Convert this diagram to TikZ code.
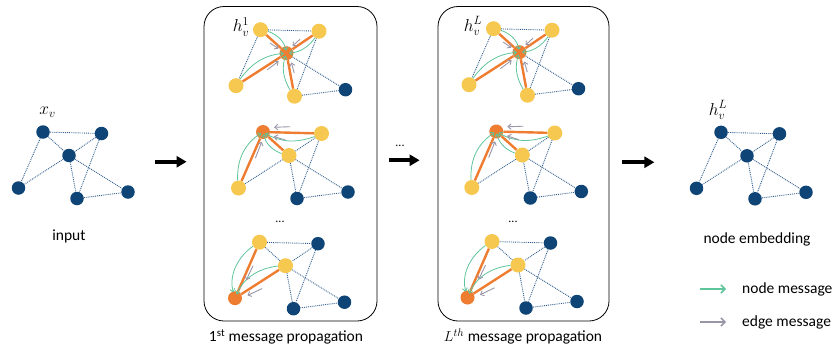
\documentclass[tikz,border=0pt]{standalone}
\usepackage{fontspec}
\setmainfont{Carlito}
\usetikzlibrary{arrows.meta, positioning, calc}
\definecolor{nodenavy}{HTML}{0F4476}
\definecolor{nodegold}{HTML}{F6C84F}
\definecolor{nodeorange}{HTML}{EE7D31}
\definecolor{edgeblue}{HTML}{2F5E8E}
\definecolor{msggreen}{HTML}{5EC59B}
\definecolor{msggray}{HTML}{9A96A8}

\tikzset{
  plainnode/.style={circle, fill=nodenavy, inner sep=0pt, minimum size=13.5pt},
  nbrnode/.style={circle, fill=nodegold, inner sep=0pt, minimum size=15pt},
  tgtnode/.style={circle, fill=nodeorange, inner sep=0pt, minimum size=14pt},
  link/.style={edgeblue, densely dotted, line width=0.9pt},
  hot/.style={nodeorange, line width=2.4pt},
  nodemsg/.style={msggreen, line width=0.8pt, -{Straight Barb[length=3pt,width=5pt]}},
  edgemsg/.style={msggray, line width=0.9pt, -{Straight Barb[length=3pt,width=5.5pt]}},
  bigarrow/.style={line width=4pt, -{Triangle[length=10pt,width=11pt]}},
  panel/.style={draw, rounded corners=20pt, line width=0.8pt, minimum height=314.5pt},
  vlabel/.style={font=\fontsize{18}{20}\selectfont},
}

% the same six nodes in every copy of the graph
\newcommand{\graphnodes}[6]{%
  \node[#1] (a) at (43,132) {};
  \node[#2] (b) at (101.5,133.5) {};
  \node[#3] (c) at (69,155.5) {};
  \node[#4] (d) at (18.5,188) {};
  \node[#5] (e) at (77,198.5) {};
  \node[#6] (f) at (128,192) {};
}

% messages into the middle node
\newcommand{\hubstep}{%
  \graphnodes{nbrnode}{nbrnode}{tgtnode}{nbrnode}{nbrnode}{plainnode}
  \foreach \p/\q in {a/b, a/d, b/e, c/f, e/f}
    \draw[link] (\p) -- (\q);
  \foreach \p in {a, b, d, e}
    \draw[hot] (c) -- (\p);
  \foreach \p/\bend/\gap in {a/30/2.5pt, b/25/2.5pt, d/25/2.5pt, e/25/2.5pt}
    \draw[nodemsg, shorten >=\gap] (\p) to[bend left=\bend] (c);
  \foreach \p/\far/\offa/\near/\offb in {a/19pt/3.5pt/9pt/2pt, b/19pt/4pt/9pt/2.5pt,
      d/25pt/3.5pt/11pt/2.5pt, e/21pt/4pt/10pt/3pt}
    \draw[edgemsg] ($(c)!\far!(\p)!\offa!90:(\p)$) -- ($(c)!\near!(\p)!\offb!90:(\p)$);
}

% messages into the upper left node
\newcommand{\topstep}{%
  \graphnodes{tgtnode}{nbrnode}{nbrnode}{nbrnode}{plainnode}{plainnode}
  \foreach \p/\q in {b/c, b/e, c/d, c/e, c/f, e/f}
    \draw[link] (\p) -- (\q);
  \foreach \p in {b, c, d}
    \draw[hot] (a) -- (\p);
  \foreach \p/\bend/\gap in {b/25/2.5pt, c/28/2pt, d/30/2pt}
    \draw[nodemsg, shorten >=\gap] (\p) to[bend left=\bend] (a);
  \foreach \p/\far/\offa/\near/\offb in {b/27pt/6pt/11pt/5pt, c/22pt/9pt/11pt/4pt,
      d/27pt/3.5pt/9.5pt/2.8pt}
    \draw[edgemsg] ($(a)!\far!(\p)!\offa!90:(\p)$) -- ($(a)!\near!(\p)!\offb!90:(\p)$);
}

% messages into the lower left node
\newcommand{\lowstep}{%
  \graphnodes{nbrnode}{plainnode}{nbrnode}{tgtnode}{plainnode}{plainnode}
  \foreach \p/\q in {a/b, a/c, b/c, b/e, c/e, c/f, e/f}
    \draw[link] (\p) -- (\q);
  \foreach \p in {a, c}
    \draw[hot] (d) -- (\p);
  \foreach \p/\bend/\gap in {a/-35/6pt, c/-30/4pt}
    \draw[nodemsg, shorten >=\gap] (\p) to[bend left=\bend] (d);
  \foreach \p/\far/\offa/\near/\offb in {a/37pt/-3.5pt/21pt/-3pt, c/28pt/-6.5pt/12pt/-4.5pt}
    \draw[edgemsg] ($(d)!\far!(\p)!\offa!90:(\p)$) -- ($(d)!\near!(\p)!\offb!90:(\p)$);
}

\begin{document}
\begin{tikzpicture}[x=1pt, y=-1pt, font=\fontsize{15.5}{18}\selectfont]
  \useasboundingbox (0,0) rectangle (836,343);

  % Input graph
  \begin{scope}[name prefix=in-]
    \graphnodes{plainnode}{plainnode}{plainnode}{plainnode}{plainnode}{plainnode}
    \foreach \p/\q in {a/b, a/c, a/d, b/c, b/e, c/d, c/e, c/f, e/f}
      \draw[link] (\p) -- (\q);
  \end{scope}
  \node[vlabel] (xv) at (47.5,112) {$x_v$};
  \node (inputlabel) at (69,236.5) {input};

  % Panels
  \node[panel, minimum width=173pt] (box1) at (290.5,163.75) {};
  \node[panel, minimum width=171pt] (box2) at (523.5,163.75) {};

  % First propagation
  \begin{scope}[shift={(217.5,-102.3)}, name prefix=pa-] \hubstep \end{scope}
  \begin{scope}[shift={(220,0)}, name prefix=pb-] \topstep \end{scope}
  \begin{scope}[shift={(216.5,110.2)}, name prefix=pc-] \lowstep \end{scope}
  \node[vlabel] (h1) at (241,27) {$h_v^1$};
  \node[font=\fontsize{12}{14}\selectfont] (dots1) at (280,222) {...};
  \node[anchor=base] (cap1) at (286,341.5) {1$^{\mathrm{st}}$ message propagation};

  % L-th propagation
  \begin{scope}[shift={(450.5,-103.3)}, name prefix=qa-] \hubstep \end{scope}
  \begin{scope}[shift={(453.3,-0.5)}, name prefix=qb-] \topstep \end{scope}
  \begin{scope}[shift={(449,109.5)}, name prefix=qc-] \lowstep \end{scope}
  \node[vlabel] (hL) at (473,26) {$h_v^L$};
  \node[font=\fontsize{12}{14}\selectfont] (dots2) at (513,222) {...};
  \node[anchor=base] (cap2) at (523,341.5) {$L^{th}$ message propagation};

  % Output graph
  \begin{scope}[shift={(678,0.3)}, name prefix=out-]
    \graphnodes{plainnode}{plainnode}{plainnode}{plainnode}{plainnode}{plainnode}
    \foreach \p/\q in {a/b, a/c, a/d, b/c, b/e, c/d, c/e, c/f, e/f}
      \draw[link] (\p) -- (\q);
  \end{scope}
  \node[vlabel] (hout) at (718,110) {$h_v^L$};
  \node (outlabel) at (757,239) {node embedding};

  % Arrows between stages
  \draw[bigarrow] ([xshift=-49pt,yshift=2pt]box1.west) -- ([xshift=-17pt,yshift=2pt]box1.west);
  \draw[bigarrow] ([xshift=12pt,yshift=3.5pt]box1.east) -- ([xshift=-18pt,yshift=3.5pt]box2.west);
  \node[font=\fontsize{12}{14}\selectfont] (dots3) at (400,146) {...};
  \draw[bigarrow] ([xshift=13pt,yshift=1.5pt]box2.east) -- ([xshift=45pt,yshift=1.5pt]box2.east);

  % Legend
  \coordinate (nm-tail) at (700,289);
  \coordinate (nm-tip) at (726,289);
  \draw[msggreen, line width=1.5pt, -{Straight Barb[length=4pt,width=8pt]}] (nm-tail) -- (nm-tip);
  \node[anchor=west, inner sep=0pt] (nm-text) at (742,289) {node message};
  \coordinate (em-tail) at (700,322);
  \coordinate (em-tip) at (726,322);
  \draw[msggray, line width=1.5pt, -{Straight Barb[length=4pt,width=8pt]}] (em-tail) -- (em-tip);
  \node[anchor=west, inner sep=0pt] (em-text) at (742,322) {edge message};
\end{tikzpicture}
\end{document}
